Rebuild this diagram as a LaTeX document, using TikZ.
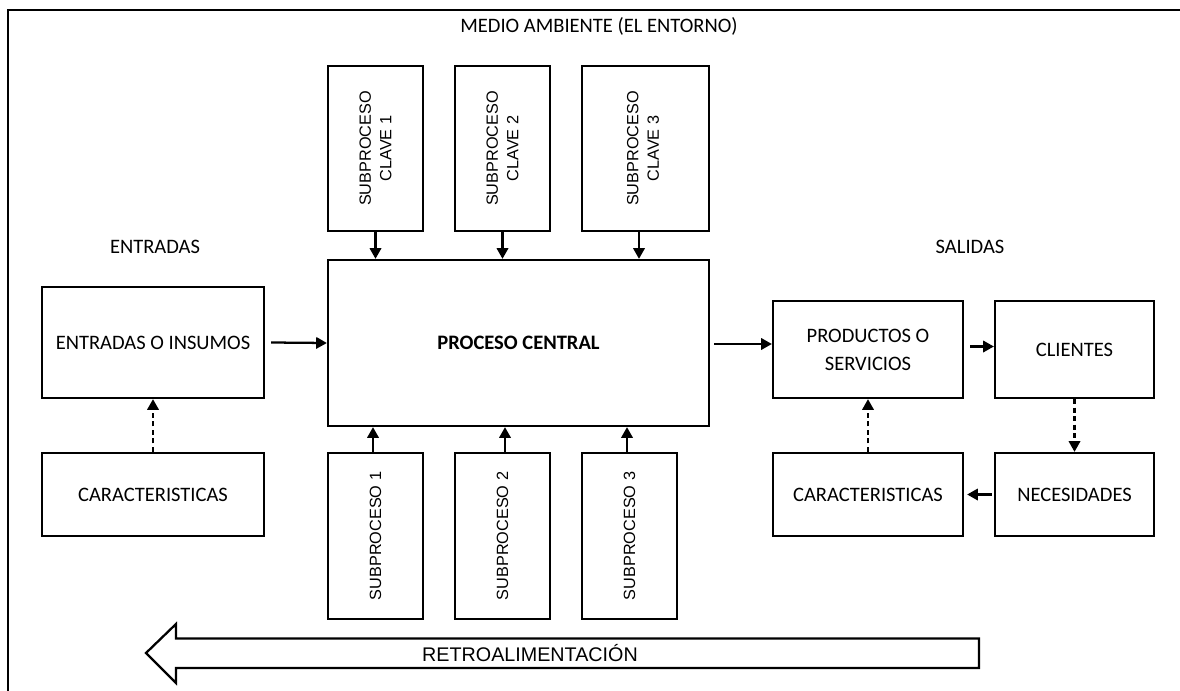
\documentclass[tikz,border=0pt]{standalone}
\usepackage{fontspec}
\setmainfont{Carlito}
\newfontfamily\arialfont{Liberation Sans}
\usetikzlibrary{arrows.meta,calc}

\tikzset{
  box/.style={draw=black, line width=1.7pt, fill=white, inner sep=0pt,
    align=center, font=\fontsize{15.4}{21}\selectfont},
  vbox/.style={box, font=\arialfont\fontsize{12.2}{15}\selectfont},
  vtext/.style={rotate=90, align=center, inner sep=0pt,
    font=\arialfont\fontsize{12.2}{15.5}\selectfont},
  lbl/.style={inner sep=0pt, font=\fontsize{15.4}{21}\selectfont},
  arr/.style={line width=1.7pt, -{Triangle[length=8pt,width=8.5pt]}},
  darr/.style={arr, dash pattern=on 3.8pt off 2.6pt},
}

\begin{document}
\begin{tikzpicture}[x=0.75pt,y=-0.75pt]
\useasboundingbox (0,0) rectangle (1180,691);

% frame of the environment
\draw[line width=1.7pt] (8,693) -- (8,10) -- (1182,10);
\node[lbl] (env) at (599,26) {MEDIO AMBIENTE (EL ENTORNO)};
\node[lbl] (entlbl) at (155,247) {ENTRADAS};
\node[lbl] (sallbl) at (970,247) {SALIDAS};

% inputs
\node[box, minimum width=166.5pt, minimum height=83.25pt] (ent) at (153,342.5) {ENTRADAS O INSUMOS};
\node[box, minimum width=166.5pt, minimum height=62.25pt] (carL) at (153,494.5) {CARACTERISTICAS};

% central process
\node[box, minimum width=285.75pt, minimum height=124.5pt] (pc) at (518.5,343) {\bfseries PROCESO CENTRAL};

% key subprocesses
\node[vbox, minimum width=71.25pt, minimum height=123.75pt] (k1) at (375.5,148.5) {};
\node[vbox, minimum width=71.25pt, minimum height=123.75pt] (k2) at (502.5,148.5) {};
\node[vbox, minimum width=95.25pt, minimum height=123.75pt] (k3) at (645.5,148.5) {};
\node[vtext] (k1t) at (k1) {SUBPROCESO\\CLAVE 1};
\node[vtext] (k2t) at (k2) {SUBPROCESO\\CLAVE 2};
\node[vtext] (k3t) at (643,148.5) {SUBPROCESO\\CLAVE 3};

% support subprocesses
\node[vbox, minimum width=71.25pt, minimum height=124.5pt] (s1) at (375.5,536) {};
\node[vbox, minimum width=71.25pt, minimum height=124.5pt] (s2) at (502.5,536) {};
\node[vbox, minimum width=71.25pt, minimum height=124.5pt] (s3) at (629.5,536) {};
\node[vtext] (s1t) at (s1) {SUBPROCESO 1};
\node[vtext] (s2t) at (s2) {SUBPROCESO 2};
\node[vtext] (s3t) at (s3) {SUBPROCESO 3};

% outputs
\node[box, minimum width=142.5pt, minimum height=72.75pt] (prod) at (868,349.5) {PRODUCTOS O\\SERVICIOS};
\node[box, minimum width=119.25pt, minimum height=72.75pt] (cli) at (1074.5,349.5) {CLIENTES};
\node[box, minimum width=119.25pt, minimum height=62.25pt] (nec) at (1074.5,494.5) {NECESIDADES};
\node[box, minimum width=142.5pt, minimum height=62.25pt] (carR) at (868,494.5) {CARACTERISTICAS};

% flows
\draw[arr] ($(ent.east)+(6,0)$) -- (pc.west);
\draw[arr] ($(pc.east)+(4,1)$) -- (prod.west |- 0,344);
\draw[arr] ($(prod.east)+(6,-3)$) -- (cli.west |- 0,346.5);
\draw[arr] ($(nec.west)+(-2,0)$) -- ($(carR.east)+(3,0)$);
\draw[darr] (carL.north) -- (ent.south);
\draw[darr] (carR.north) -- (prod.south);
\draw[darr] (cli.south) -- (nec.north);

\draw[arr] (k1.south) -- (k1.south |- pc.north);
\draw[arr] (k2.south) -- (k2.south |- pc.north);
\draw[arr] ($(k3.south)+(-6.5,0)$) -- ($(k3.south |- pc.north)+(-6.5,0)$);
\draw[arr] ($(s1.north)+(-2.5,0)$) -- ($(s1.north |- pc.south)+(-2.5,0)$);
\draw[arr] ($(s2.north)+(2.5,0)$) -- ($(s2.north |- pc.south)+(2.5,0)$);
\draw[arr] ($(s3.north)+(-2.5,0)$) -- ($(s3.north |- pc.south)+(-2.5,0)$);

% feedback arrow
\draw[line width=1.7pt, fill=white] (146,653) -- (176,624) -- (176,638.5) -- (979,638.5)
  -- (979,668) -- (176,668) -- (176,683) -- cycle;
\node[inner sep=0pt, font=\arialfont\fontsize{14.8}{18}\selectfont] (retro) at (530,653.5) {RETROALIMENTACIÓN};
\end{tikzpicture}
\end{document}
